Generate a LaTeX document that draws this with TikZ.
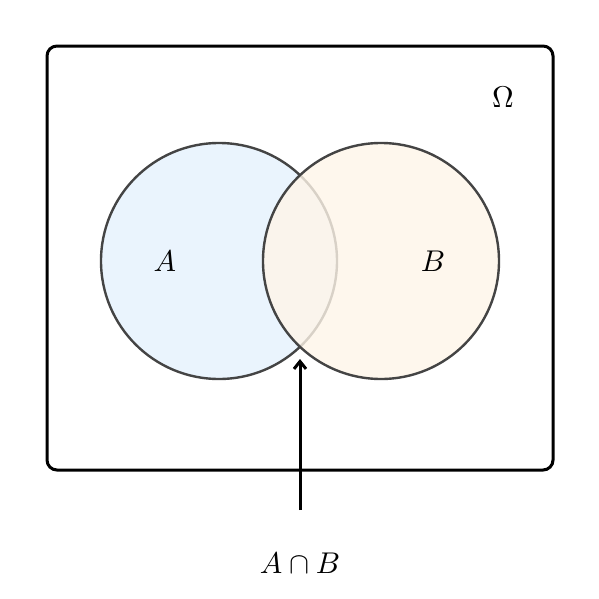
\documentclass[tikz,border=0pt]{standalone}
\usetikzlibrary{arrows.meta}
\definecolor{setA}{HTML}{EAF4FD}
\definecolor{setB}{HTML}{FEF5E8}
\definecolor{edge}{HTML}{444444}
\begin{document}
\begin{tikzpicture}[x=0.3333pt,y=-0.3333pt,
  setcircle/.style={circle,draw=edge,line width=0.8pt,minimum size=236*0.3333pt,inner sep=0pt},
  lbl/.style={inner sep=0pt}]
\useasboundingbox (0,0) rectangle (599,599);
\node[draw,line width=1pt,rounded corners=3.3pt,minimum width=506*0.3333pt,minimum height=424*0.3333pt,inner sep=0pt] (omega) at (300,258) {};
\node[setcircle,fill=setA] (a) at (219,261) {};
\node[setcircle,fill=setB,fill opacity=0.8,draw opacity=1] (b) at (381,261) {};
\node[lbl] (om) at (503,97) {$\Omega$};
\node[lbl] (la) at (165,261) {$A$};
\node[lbl] (lb) at (433,261) {$B$};
\node[lbl] (ab) at (300,563) {$A\cap B$};
\coordinate (tail) at (300,510);
\coordinate (tip) at (300,359);
\draw[line width=1pt,-{Straight Barb[length=2.5pt,width=4pt]}] (tail) -- (tip);
\end{tikzpicture}
\end{document}
